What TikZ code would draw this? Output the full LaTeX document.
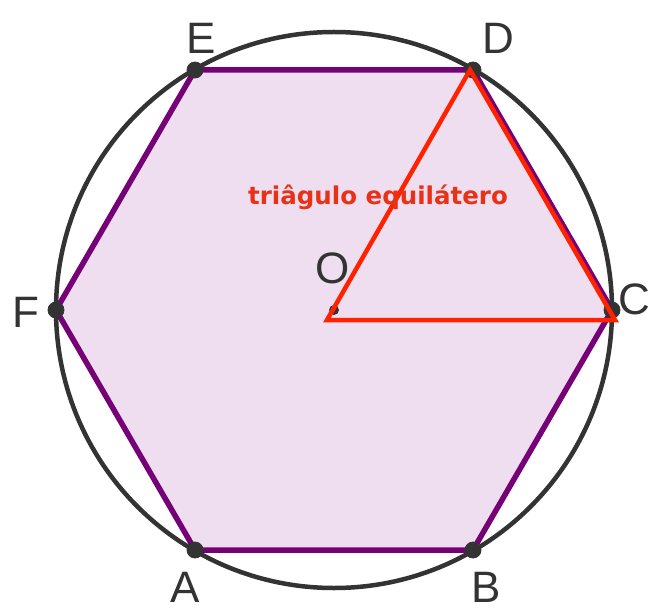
\documentclass[tikz,border=0pt]{standalone}
\usepackage{fontspec}
\setmainfont{Liberation Sans}
\newfontfamily\boldlbl{DejaVu Sans}
\definecolor{hexfill}{RGB}{238,222,240}
\definecolor{hexedge}{RGB}{118,0,118}
\definecolor{circ}{RGB}{51,51,51}
\definecolor{redline}{RGB}{255,34,0}
\definecolor{redtext}{RGB}{232,50,24}
\begin{document}
\begin{tikzpicture}[x=1pt,y=-1pt,
  pt/.style={circle,fill=circ,draw=black!80,line width=0.8pt,inner sep=0pt,minimum size=16pt},
  lbl/.style={text=circ,font=\fontsize{44}{44}\selectfont,inner sep=0pt},
  edge/.style={hexedge,line width=5.5pt,line join=round},
  tri/.style={redline,line width=4.5pt,line join=miter}]
\useasboundingbox (0,0) rectangle (650,612);
\coordinate (O) at (334,310);
\coordinate (C) at (612,310);
\coordinate (D) at (473,70);
\coordinate (E) at (195,70);
\coordinate (F) at (56,310);
\coordinate (A) at (195,550);
\coordinate (B) at (473,550);
\fill[hexfill] (A) -- (B) -- (C) -- (D) -- (E) -- (F) -- cycle;
\draw[circ,line width=4.5pt] (O) circle[radius=278];
\draw[edge] (A) -- (B) -- (C) -- (D) -- (E) -- (F) -- cycle;
\node[pt] (pO) at (334,310) [minimum size=9pt] {};
\coordinate (tO) at (327,320);
\coordinate (tC) at (615,320);
\coordinate (tD) at (470,70);
\node[pt] (pA) at (A) {};
\node[pt] (pB) at (B) {};
\node[pt] (pC) at (C) {};
\node[pt] (pD) at (D) {};
\node[pt] (pE) at (E) {};
\node[pt] (pF) at (F) {};
\draw[tri] (tO) -- (tC) -- (tD) -- cycle;
\node[lbl] (lE) at (201,38) {E};
\node[lbl] (lD) at (498,38) {D};
\node[lbl] (lC) at (634,299) {C};
\node[lbl] (lF) at (26,312) {F};
\node[lbl] (lA) at (185,587) {A};
\node[lbl] (lB) at (486,587) {B};
\node[lbl] (lO) at (333,268) {O};
\node[text=redtext,font=\boldlbl\bfseries\fontsize{24.5}{24.5}\selectfont,inner sep=0pt] (txt) at (378,197) {triâgulo equilátero};
\end{tikzpicture}
\end{document}
